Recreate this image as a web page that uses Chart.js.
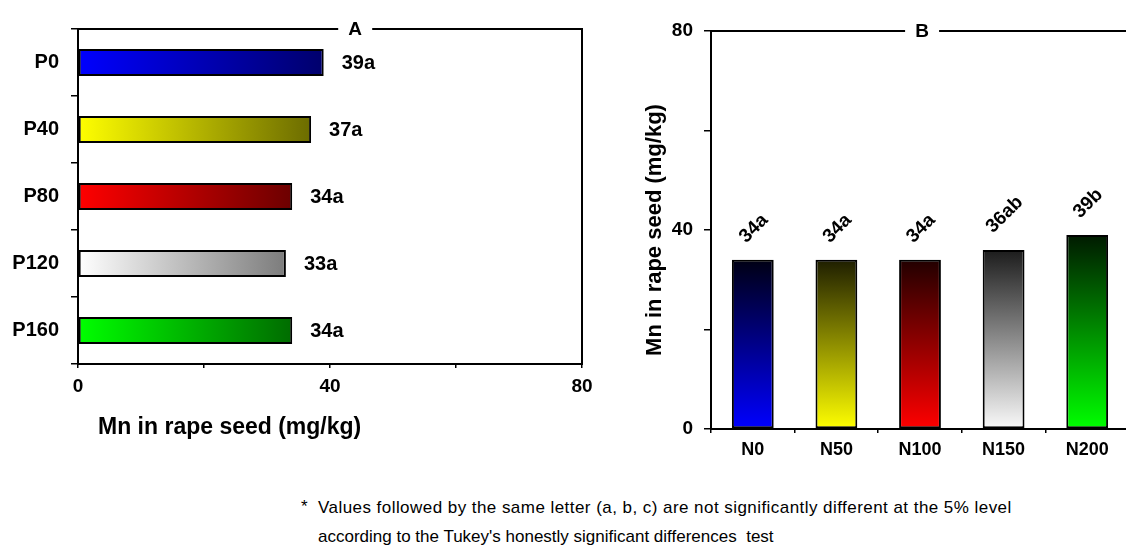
<!DOCTYPE html>
<html>
<head>
<meta charset="utf-8">
<script src="https://cdn.jsdelivr.net/npm/chart.js@4.4.1/dist/chart.umd.min.js"></script>
<style>
html,body{margin:0;padding:0;background:#fff;overflow:hidden;width:1126px;height:551px;position:relative;}
#chartA{position:absolute;left:0;top:0;}
#chartB{position:absolute;left:620px;top:0;}
.note{position:absolute;font-family:"Liberation Sans",Arial,Helvetica,sans-serif;font-size:17px;line-height:20px;color:#000;white-space:pre;}
</style>
</head>
<body>
<canvas id="chartA" width="610" height="470"></canvas>
<canvas id="chartB" width="510" height="470"></canvas>
<div class="note" style="left:301px;top:497px;">*</div>
<div class="note" style="left:318px;top:498px;letter-spacing:0.45px;">Values followed by the same letter (a, b, c) are not significantly different at the 5% level</div>
<div class="note" style="left:318px;top:527px;">according to the Tukey's honestly significant differences  test</div>
<script>
// ---- data ----
const pCategories = ['P0', 'P40', 'P80', 'P120', 'P160'];
const pValues = [39, 37, 34, 33, 34];
const pLetters = ['a', 'a', 'a', 'a', 'a'];
const nCategories = ['N0', 'N50', 'N100', 'N150', 'N200'];
const nValues = [34, 34, 34, 36, 39];
const nLetters = ['a', 'a', 'a', 'ab', 'b'];
const valueTickLabels = [0, 40, 80];
const axisTitle = 'Mn in rape seed (mg/kg)';
const panelTitles = ['A', 'B'];

// ---- colours ----
const pLight = ['#0000ff', '#ffff00', '#ff0000', '#ffffff', '#00ff00'];
const pDark = ['#00006c', '#6c6c00', '#6c0000', '#7c7c7c', '#006c00'];
const nBottom = ['#0000ff', '#ffff00', '#ff0000', '#fafafa', '#00ff00'];
const nTop = ['#000014', '#1e1e00', '#220000', '#1c1c1c', '#001a00'];

const FONT = '"Liberation Sans", Arial, Helvetica, sans-serif';
Chart.defaults.font.family = FONT;
Chart.defaults.color = '#000';

function gradA(c) {
  const chart = c.chart, i = c.dataIndex;
  if (i === undefined || !chart.chartArea) return pLight[0];
  const xs = chart.scales.x;
  const x0 = xs.getPixelForValue(0), x1 = xs.getPixelForValue(pValues[i]);
  const g = chart.ctx.createLinearGradient(x0, 0, x1, 0);
  g.addColorStop(0, pLight[i]);
  g.addColorStop(1, pDark[i]);
  return g;
}
function gradB(c) {
  const chart = c.chart, i = c.dataIndex;
  if (i === undefined || !chart.chartArea) return nBottom[0];
  const ys = chart.scales.y;
  const y0 = ys.getPixelForValue(0), y1 = ys.getPixelForValue(nValues[i]);
  const g = chart.ctx.createLinearGradient(0, y0, 0, y1);
  g.addColorStop(0, nBottom[i]);
  g.addColorStop(1, nTop[i]);
  return g;
}
const tickCb = v => valueTickLabels.includes(v) ? String(v) : '';

const framePlugin = (title, frac, rightBorder, xTitle) => ({
  id: 'frame' + title,
  afterDraw(chart) {
    const { ctx, chartArea: { left, right, top, bottom } } = chart;
    const cx = left + (right - left) * frac;
    const gap = 17;
    ctx.save();
    ctx.strokeStyle = '#000';
    ctx.lineWidth = 2;
    ctx.beginPath();
    ctx.moveTo(left, top);
    ctx.lineTo(cx - gap, top);
    ctx.moveTo(cx + gap, top);
    ctx.lineTo(right + (rightBorder ? 0 : 10), top);
    if (rightBorder) ctx.lineTo(right, bottom + 1);
    ctx.stroke();
    ctx.fillStyle = '#000';
    ctx.font = 'bold 19px ' + FONT;
    ctx.textAlign = 'center';
    ctx.textBaseline = 'middle';
    ctx.fillText(title, cx, top + 1);
    if (xTitle) {
      ctx.font = 'bold 23px ' + FONT;
      ctx.textAlign = 'left';
      ctx.fillText(xTitle, left + 20, bottom + 64);
    }
    ctx.restore();
  }
});

const labelsA = {
  id: 'labelsA',
  afterDatasetsDraw(chart) {
    const ctx = chart.ctx;
    const meta = chart.getDatasetMeta(0);
    ctx.save();
    ctx.font = 'bold 20px ' + FONT;
    ctx.fillStyle = '#000';
    ctx.textAlign = 'left';
    ctx.textBaseline = 'middle';
    meta.data.forEach((bar, i) => {
      ctx.fillText(pValues[i] + pLetters[i], bar.x + 18, bar.y + 1);
    });
    ctx.restore();
  }
};

const labelsB = {
  id: 'labelsB',
  afterDatasetsDraw(chart) {
    const ctx = chart.ctx;
    const meta = chart.getDatasetMeta(0);
    ctx.save();
    ctx.font = 'bold 19px ' + FONT;
    ctx.fillStyle = '#000';
    ctx.textAlign = 'center';
    ctx.textBaseline = 'middle';
    meta.data.forEach((bar, i) => {
      const t = nValues[i] + nLetters[i];
      const w = ctx.measureText(t).width;
      ctx.save();
      ctx.translate(bar.x + 1, bar.y - 20 - w * 0.3536);
      ctx.rotate(-Math.PI / 4);
      ctx.fillText(t, 0, 0);
      ctx.restore();
    });
    ctx.restore();
  }
};

const commonPlugins = { legend: { display: false }, tooltip: { enabled: false } };

new Chart(document.getElementById('chartA'), {
  type: 'bar',
  data: {
    labels: pCategories,
    datasets: [{
      data: pValues,
      backgroundColor: gradA,
      borderColor: '#000',
      borderWidth: 2,
      borderSkipped: false,
      categoryPercentage: 1,
      barPercentage: 0.4
    }]
  },
  options: {
    indexAxis: 'y',
    responsive: false,
    animation: false,
    layout: { padding: { top: 29, right: 28, left: 0, bottom: 0 } },
    scales: {
      y: {
        type: 'category',
        position: 'left',
        grid: { drawOnChartArea: false, drawTicks: true, tickLength: 7, color: '#000', lineWidth: 1.5, offset: true },
        border: { display: true, color: '#000', width: 2 },
        ticks: { font: { size: 20, weight: 'bold' }, padding: 12, color: '#000' },
        afterFit(s) { s.width = 78; }
      },
      x: {
        type: 'linear',
        position: 'bottom',
        min: 0, max: 80,
        grid: { drawOnChartArea: false, drawTicks: true, tickLength: 4, color: '#000', lineWidth: 1.5 },
        border: { display: true, color: '#000', width: 2 },
        ticks: { stepSize: 20, autoSkip: false, maxRotation: 0, font: { size: 19, weight: 'bold' }, padding: 7, color: '#000', callback: tickCb },
        afterFit(s) { s.height = 106; }
      }
    },
    plugins: commonPlugins
  },
  plugins: [labelsA, framePlugin(panelTitles[0], 0.55, true, axisTitle)]
});

new Chart(document.getElementById('chartB'), {
  type: 'bar',
  data: {
    labels: nCategories,
    datasets: [{
      data: nValues,
      backgroundColor: gradB,
      borderColor: '#000',
      borderWidth: 2,
      borderSkipped: false,
      categoryPercentage: 1,
      barPercentage: 0.5
    }]
  },
  options: {
    responsive: false,
    animation: false,
    layout: { padding: { top: 31, right: 1, left: 0, bottom: 0 } },
    scales: {
      x: {
        type: 'category',
        position: 'bottom',
        grid: { drawOnChartArea: false, drawTicks: true, tickLength: 4, color: '#000', lineWidth: 1.5, offset: true },
        border: { display: true, color: '#000', width: 2 },
        ticks: { font: { size: 18, weight: 'bold' }, padding: 6, color: '#000', maxRotation: 0 },
        afterFit(s) { s.height = 41; }
      },
      y: {
        type: 'linear',
        position: 'left',
        min: 0, max: 80,
        grid: { drawOnChartArea: false, drawTicks: true, tickLength: 7, color: '#000', lineWidth: 1.5 },
        border: { display: true, color: '#000', width: 2 },
        ticks: { stepSize: 20, autoSkip: false, font: { size: 19, weight: 'bold' }, padding: 11, color: '#000', callback: tickCb },
        title: { display: true, text: axisTitle, color: '#000', font: { size: 22, weight: 'bold' }, padding: { top: 22, bottom: 0 } },
        afterFit(s) { s.width = 91; }
      }
    },
    plugins: commonPlugins
  },
  plugins: [labelsB, framePlugin(panelTitles[1], 0.505, false, null)]
});
</script>
</body>
</html>
